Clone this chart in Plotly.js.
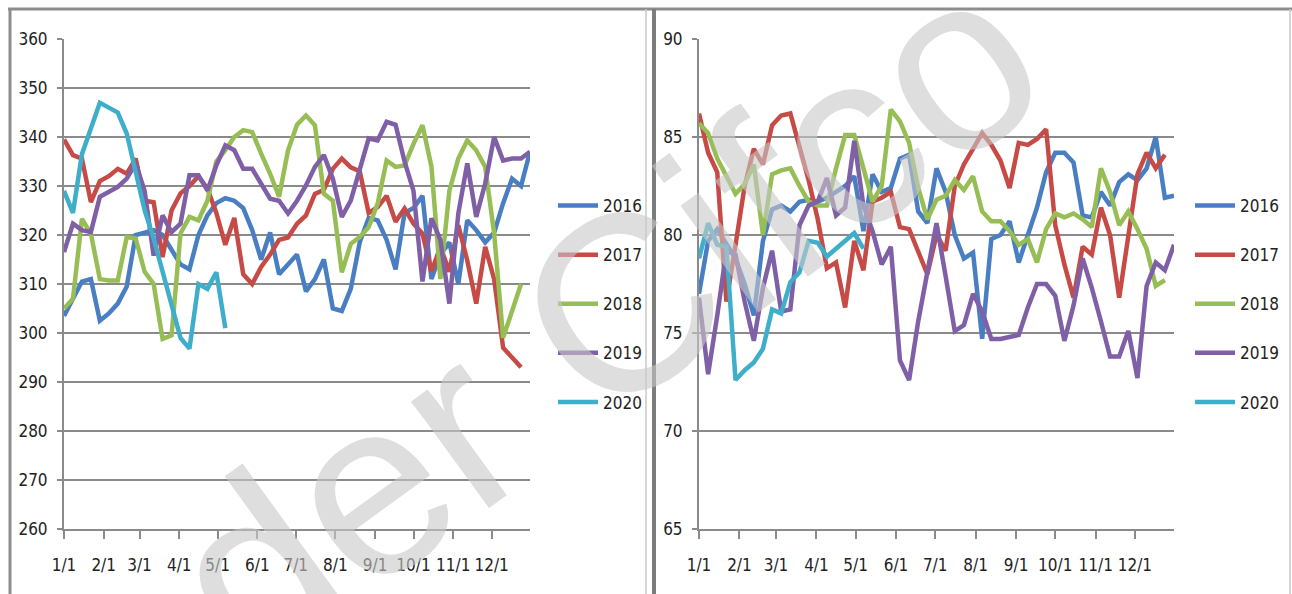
<!DOCTYPE html>
<html>
<head>
<meta charset="utf-8">
<script src="https://cdn.plot.ly/plotly-3.0.1.min.js"></script>
<style>
  html, body { margin: 0; padding: 0; background: #ffffff; }
  #chart { width: 1292px; height: 594px; }
</style>
</head>
<body>
<div id="chart"></div>
<script>
// ---- categories ----
var years = ['2016', '2017', '2018', '2019', '2020'];
var monthTickDays = [0, 31, 59, 90, 120, 151, 181, 212, 243, 273, 304, 334];
var monthTickLabels = ['1/1', '2/1', '3/1', '4/1', '5/1', '6/1', '7/1', '8/1', '9/1', '10/1', '11/1', '12/1'];

// ---- left panel series (weekly) ----
var left2016 = [303.5,307,310.5,311,302.5,304,306,309.5,320,320.5,321,320,317,314,313,320,324,326.5,327.5,327,325.5,321,315,320.5,312,314,316,308.5,311,315,305,304.5,309,318.5,323.5,323,319,313,324.5,325.5,328,311,316,318.5,310,323,321,318.5,320.5,326.5,331.5,330,337];
var left2017 = [339.5,336.3,335.6,326.7,331,332,333.5,332.5,335.6,327,326.7,315.5,325,328.5,330,332,329.5,324.5,318,323.5,312,310,313.5,316,319,319.5,322.3,324,328.4,329.2,333.5,335.6,333.8,333,324.5,325.7,328,322.7,325.4,322.3,320.3,312.5,317.6,312.5,322,314.8,306,317.6,311,297,295,293];
var left2018 = [305,307,323.3,320.3,311,310.7,310.7,319.6,319.3,312.5,310,298.8,299.5,320.3,323.7,323,327,335,337.3,340,341.4,341,336.6,332.5,327.8,337.3,342.5,344.4,342.4,328.4,327,312.4,318.2,319.6,321.6,326.4,335.2,333.9,334.2,338.6,342.4,334,311,329,335.6,339.3,337.3,333.9,320.3,299,304.5,310];
var left2019 = [316.5,322.3,321,320.6,327.8,328.8,329.8,331.5,334.6,329,315.8,324,320.6,322.3,332.2,332.2,329.1,334.2,338.3,337.3,333.5,333.5,330.5,327.4,327,324.4,327,330.1,333.9,336.3,331.5,323.7,327,333.2,339.7,339.3,343.1,342.5,335,329,310.5,323.4,319,306,324.4,334.6,323.7,330.5,340,335.2,335.6,335.6,337];
var left2020 = [329,324.5,336.5,342,347,346,345,340.7,333,325,319.3,312.3,305.3,299,296.8,310,309,312.4,301];

// ---- right panel series (weekly) ----
var right2016 = [77,79.7,80.3,79.5,78.8,77.5,75.9,79.7,81.3,81.5,81.2,81.7,81.8,81.7,81.9,82.2,82.5,83,80.2,83.1,82.2,82.4,83.9,84.1,81.2,80.6,83.4,82.2,80,78.8,79.1,74.7,79.8,80,80.7,78.6,80,81.4,83.2,84.2,84.2,83.7,81,80.9,82.2,81.5,82.7,83.1,82.8,83.4,85,81.9,82];
var right2017 = [86.2,84.2,83.2,76.6,79.5,82.5,84.4,83.6,85.6,86.1,86.2,84.6,82.8,80.8,78.3,78.6,76.3,79.7,78.2,81.7,81.9,82.2,80.4,80.3,79.2,78,80,79.2,82.5,83.6,84.4,85.2,84.6,83.8,82.4,84.7,84.6,84.9,85.4,80.5,78.5,76.8,79.4,79,81.4,80,76.8,79.8,83.1,84.2,83.4,84.1];
var right2018 = [85.7,85.2,83.9,83,82.1,82.6,83.6,80,83.1,83.3,83.4,82.5,81.7,81.5,81.5,83.4,85.1,85.1,83.4,81.7,82.5,86.4,85.8,84.7,82.4,80.8,81.8,82,82.8,82.3,83,81.2,80.7,80.7,80.2,79.5,79.8,78.6,80.3,81.1,80.9,81.1,80.8,80.4,83.4,82.2,80.5,81.2,80.3,79.3,77.4,77.7];
var right2019 = [76.8,72.9,75.9,79.2,79,76.6,74.6,77.3,79.2,76.1,76.2,80.5,81.5,81.7,82.9,81,81.4,84.8,81.5,80.2,78.5,79.4,73.6,72.6,75.6,78.1,80.6,77.9,75.1,75.4,77,76.1,74.7,74.7,74.8,74.9,76.3,77.5,77.5,76.9,74.6,76.4,78.8,77.3,75.6,73.8,73.8,75.1,72.7,77.4,78.6,78.2,79.5];
var right2020 = [78.8,80.6,79.5,79.4,72.6,73.1,73.5,74.2,76.2,76,77.6,78.1,79.7,79.6,78.9,79.3,79.7,80.1,79.3];

var leftSeries = [left2016, left2017, left2018, left2019, left2020];
var rightSeries = [right2016, right2017, right2018, right2019, right2020];

// ---- styling ----
var colors = ['#4A7EC2', '#C64B47', '#96BE55', '#7F5FA6', '#3FAECB'];
var FONT = "'DejaVu Sans Condensed', 'Liberation Sans Narrow', 'Arial Narrow', sans-serif";
var TXT = '#222222';
var GRID = '#8a8a8a';
var W = 1292, H = 594;
function px(x) { return x / W; }
function py(y) { return 1 - y / H; }

// week category positions (day of year of each weekly observation)
function weekDays(n) { var d = []; for (var i = 0; i < n; i++) d.push(i * 7); return d; }

var traces = [];
leftSeries.forEach(function (s, i) {
  traces.push({
    type: 'scatter', mode: 'lines', name: years[i],
    x: weekDays(s.length), y: s, xaxis: 'x', yaxis: 'y',
    line: { color: colors[i], width: 4.5 },
    legend: 'legend', legendgroup: 'L' + i
  });
});
rightSeries.forEach(function (s, i) {
  traces.push({
    type: 'scatter', mode: 'lines', name: years[i],
    x: weekDays(s.length), y: s, xaxis: 'x2', yaxis: 'y2',
    line: { color: colors[i], width: 4.5 },
    legend: 'legend2', legendgroup: 'R' + i
  });
});

var xCommon = {
  range: [0, 364], tickmode: 'array', tickvals: monthTickDays, ticktext: monthTickLabels,
  tickangle: 0,
  ticks: 'outside', ticklen: 8, tickwidth: 2, tickcolor: GRID,
  showline: true, linecolor: GRID, linewidth: 2,
  showgrid: false, zeroline: false, fixedrange: true,
  tickfont: { family: FONT, size: 17, color: TXT }, ticklabelstandoff: 12
};
var yCommon = {
  ticks: 'outside', ticklen: 5, tickwidth: 2, tickcolor: GRID,
  showline: true, linecolor: GRID, linewidth: 2,
  showgrid: true, gridcolor: GRID, gridwidth: 2, zeroline: false, fixedrange: true,
  tickfont: { family: FONT, size: 17, color: TXT }, ticklabelstandoff: 6
};
function merge(a, b) { var o = {}; for (var k in a) o[k] = a[k]; for (var j in b) o[j] = b[j]; return o; }

var legendCommon = {
  xanchor: 'left', yanchor: 'top', orientation: 'v',
  bgcolor: 'rgba(0,0,0,0)', borderwidth: 0,
  font: { family: FONT, size: 17, color: TXT },
  traceorder: 'grouped', tracegroupgap: 24, itemwidth: 40, itemclick: false
};

var layout = {
  width: W, height: H,
  margin: { l: 0, r: 0, t: 0, b: 0 },
  paper_bgcolor: '#ffffff', plot_bgcolor: 'rgba(0,0,0,0)',
  showlegend: true,
  xaxis: merge(xCommon, { domain: [px(64), px(530)], anchor: 'y' }),
  yaxis: merge(yCommon, { domain: [py(529), py(39)], range: [260, 360], dtick: 10, tick0: 260, anchor: 'x' }),
  xaxis2: merge(xCommon, { domain: [px(699), px(1174)], anchor: 'y2' }),
  yaxis2: merge(yCommon, { domain: [py(529), py(39)], range: [65, 90], dtick: 5, tick0: 65, anchor: 'x2' }),
  legend: merge(legendCommon, { x: px(553), y: py(188) }),
  legend2: merge(legendCommon, { x: px(1190), y: py(188) }),
  shapes: [
    // chart frames
    { type: 'line', xref: 'paper', yref: 'paper', x0: px(8), x1: px(1292), y0: py(9), y1: py(9), line: { color: '#8c8c8c', width: 3 } },
    { type: 'line', xref: 'paper', yref: 'paper', x0: px(10), x1: px(10), y0: py(9), y1: -0.01, line: { color: '#8c8c8c', width: 3 } },
    { type: 'line', xref: 'paper', yref: 'paper', x0: px(646), x1: px(646), y0: py(9), y1: -0.01, line: { color: '#c8c8c8', width: 1.5 } },
    { type: 'line', xref: 'paper', yref: 'paper', x0: px(654), x1: px(654), y0: py(9), y1: -0.01, line: { color: '#7c7c7c', width: 4 } },
    { type: 'line', xref: 'paper', yref: 'paper', x0: px(1290), x1: px(1290), y0: py(9), y1: -0.01, line: { color: '#c8c8c8', width: 1.5 } }
  ],
  annotations: [
    { xref: 'paper', yref: 'paper', x: px(475), y: py(412), xanchor: 'center', yanchor: 'middle',
      text: 'Under Cifco', showarrow: false, textangle: -36,
      font: { family: "'Liberation Sans', Arial, sans-serif", size: 250, color: 'rgba(200,200,200,0.6)' } }
  ]
};

Plotly.newPlot('chart', traces, layout, { staticPlot: true, displayModeBar: false });
</script>
</body>
</html>
